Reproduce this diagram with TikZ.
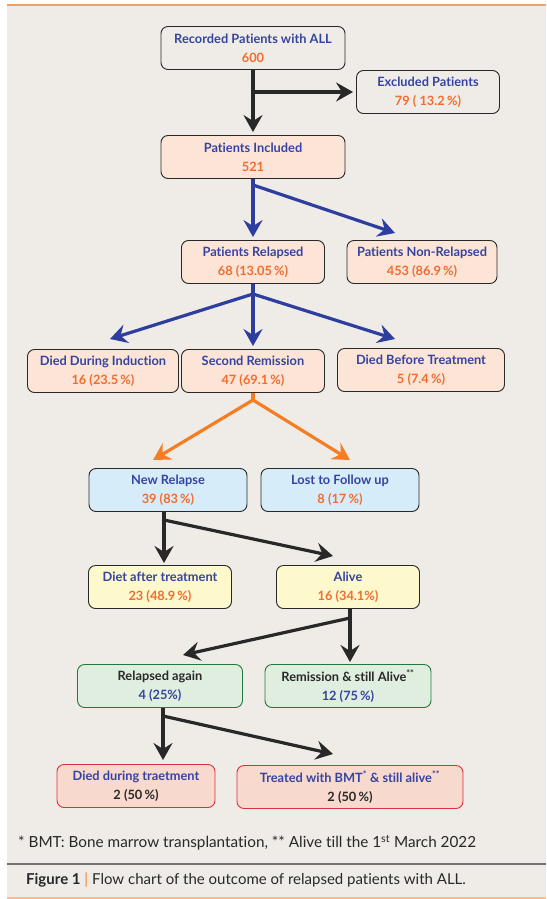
\documentclass[tikz,border=0pt]{standalone}
\usepackage{fontspec}
\setmainfont{Lato}[Ligatures={TeX,NoCommon}]
\usetikzlibrary{arrows.meta,positioning}

\definecolor{panel}{RGB}{239,236,231}
\definecolor{rulecol}{RGB}{246,158,98}
\definecolor{navy}{RGB}{52,68,160}
\definecolor{tang}{RGB}{242,108,45}
\definecolor{ink}{RGB}{40,40,40}
\definecolor{peach}{RGB}{252,228,214}
\definecolor{sky}{RGB}{214,236,248}
\definecolor{cream}{RGB}{254,248,205}
\definecolor{mint}{RGB}{224,238,223}
\definecolor{leaf}{RGB}{35,120,60}
\definecolor{rose}{RGB}{247,217,206}
\definecolor{brick}{RGB}{214,52,58}
\definecolor{arrblue}{RGB}{46,62,158}
\definecolor{arrorange}{RGB}{245,125,35}

\newcommand{\hd}[1]{\textcolor{navy}{#1}}
\newcommand{\val}[1]{\textcolor{tang}{#1}}

\tikzset{
  flow/.style={draw=ink, line width=0.9pt, rounded corners=7pt,
               align=center, minimum height=43pt, inner sep=2pt,
               font=\bfseries\fontsize{12.8}{19}\selectfont},
  link/.style={line width=3.2pt, line cap=butt,
               -{Stealth[length=17pt,width=19pt,inset=6pt]}},
}

\begin{document}
\begin{tikzpicture}[x=1pt,y=-1pt]

  \useasboundingbox (0,0) rectangle (546,899);

  % panel and rules
  \fill [panel] (7,5) rectangle (546,898);
  \draw [rulecol, line width=2pt] (7,5) -- (546,5);
  \draw [rulecol!70, line width=1.5pt] (7,898) -- (546,898);
  \draw [black!55, line width=1.5pt] (7,864) -- (546,864);

  % boxes
  \node [flow, minimum width=184pt] (rec) at (253,48)
        {\hd{Recorded Patients with ALL}\\ \val{600}};
  \node [flow, minimum width=143pt] (excl) at (428,92)
        {\hd{Excluded Patients}\\ \val{79 ( 13.2\,\%)}};
  \node [flow, fill=peach, minimum width=184pt] (incl) at (253,157)
        {\hd{Patients Included}\\ \val{521}};

  \node [flow, fill=peach, minimum width=143pt] (rel) at (253,262)
        {\hd{Patients Relapsed}\\ \val{68 (13.05\,\%)}};
  \node [flow, fill=peach, minimum width=150pt] (nonrel) at (422,262)
        {\hd{Patients Non-Relapsed}\\ \val{453 (86.9\,\%)}};

  \node [flow, fill=peach, minimum width=151pt] (diedind) at (103,371)
        {\hd{Died During Induction}\\ \val{16 (23.5\,\%)}};
  \node [flow, fill=peach, minimum width=143pt] (secrem) at (253,371)
        {\hd{Second Remission}\\ \val{47 (69.1\,\%)}};
  \node [flow, fill=peach, minimum width=167pt] (diedbef) at (421,370)
        {\hd{Died Before Treatment}\\ \val{5 (7.4\,\%)}};

  \node [flow, fill=sky, minimum width=158pt] (newrel) at (168,490)
        {\hd{New Relapse}\\ \val{39 (83\,\%)}};
  \node [flow, fill=sky, minimum width=158pt] (lost) at (340,490)
        {\hd{Lost to Follow up}\\ \val{8 (17\,\%)}};

  \node [flow, fill=cream, minimum width=143pt] (diet) at (160,587)
        {\hd{Diet after treatment}\\ \val{23 (48.9\,\%)}};
  \node [flow, fill=cream, minimum width=143pt] (alive) at (348,587)
        {\hd{Alive}\\ \val{16 (34.1\%)}};

  \node [flow, draw=leaf, fill=mint, minimum width=165pt] (relagain) at (160,686)
        {\textcolor{ink}{Relapsed again}\\ \hd{4 (25\%)}};
  \node [flow, draw=leaf, fill=mint, minimum width=166pt] (remis) at (348,686)
        {\textcolor{ink}{Remission \& still Alive\textsuperscript{**}}\\ \hd{12 (75\,\%)}};

  \node [flow, draw=brick, fill=rose, minimum width=158pt] (dieddur) at (136,786)
        {\hd{Died during traetment}\\ \textcolor{ink}{2 (50\,\%)}};
  \node [flow, draw=brick, fill=rose, minimum width=226pt] (bmt) at (350,787)
        {\hd{Treated with BMT\textsuperscript{*} \& still alive\textsuperscript{**}}\\
         \textcolor{ink}{2 (50\,\%)}};

  % branch points and arrow ends
  \coordinate (j1) at (rec.south |- excl.west);
  \coordinate (j2) at (253,185);
  \coordinate (nrtip) at (395,233);
  \coordinate (j3) at (253,294);
  \coordinate (ditip) at (110,339);
  \coordinate (dbtip) at (395,339);
  \coordinate (j4) at (253,400);
  \coordinate (nrltip) at (153,460);
  \coordinate (lftip) at (350,460);
  \coordinate (j5) at (164,512);
  \coordinate (j5b) at (164,520);
  \coordinate (dttip) at (164,563);
  \coordinate (altip) at (333,556);
  \coordinate (j6) at (350,608);
  \coordinate (j6b) at (350,618);
  \coordinate (ratip) at (183,655);
  \coordinate (retip) at (350,662);
  \coordinate (j7) at (163,708);
  \coordinate (j7b) at (163,716);
  \coordinate (ddtip) at (163,760);
  \coordinate (bmtip) at (333,754);

  % black arrows
  \draw [link, ink] (rec.south) -- ([yshift=3pt]incl.north);
  \draw [link, ink] (j1) -- ([xshift=-3pt]excl.west);

  % blue arrows
  \draw [link, arrblue] (incl.south) -- ([yshift=3pt]rel.north);
  \draw [link, arrblue] (j2) -- (nrtip);
  \draw [link, arrblue] (rel.south) -- ([yshift=3pt]secrem.north);
  \draw [link, arrblue] (j3) -- (ditip);
  \draw [link, arrblue] (j3) -- (dbtip);

  % orange arrows
  \draw [line width=3.2pt, arrorange] (secrem.south) -- (j4);
  \draw [link, arrorange] (j4) -- (nrltip);
  \draw [link, arrorange] (j4) -- (lftip);

  % black arrows, lower part
  \draw [link, ink] (j5) -- (dttip);
  \draw [link, ink] (j5b) -- (altip);
  \draw [link, ink] (j6) -- (retip);
  \draw [link, ink] (j6b) -- (ratip);
  \draw [link, ink] (j7) -- (ddtip);
  \draw [link, ink] (j7b) -- (bmtip);

  % footnote and caption
  \node [anchor=west, text=ink, inner sep=0pt, font=\fontsize{15.3}{18}\selectfont]
        (foot) at (18,843)
        {* BMT: Bone marrow transplantation, ** Alive till the 1\textsuperscript{st} March 2022};
  \node [anchor=west, text=ink, inner sep=0pt, font=\fontsize{15}{18}\selectfont]
        (cap) at (26,880)
        {\textbf{Figure 1} \textcolor{rulecol}{\textbf{|}} Flow chart of the outcome of relapsed patients with ALL.};

\end{tikzpicture}
\end{document}
